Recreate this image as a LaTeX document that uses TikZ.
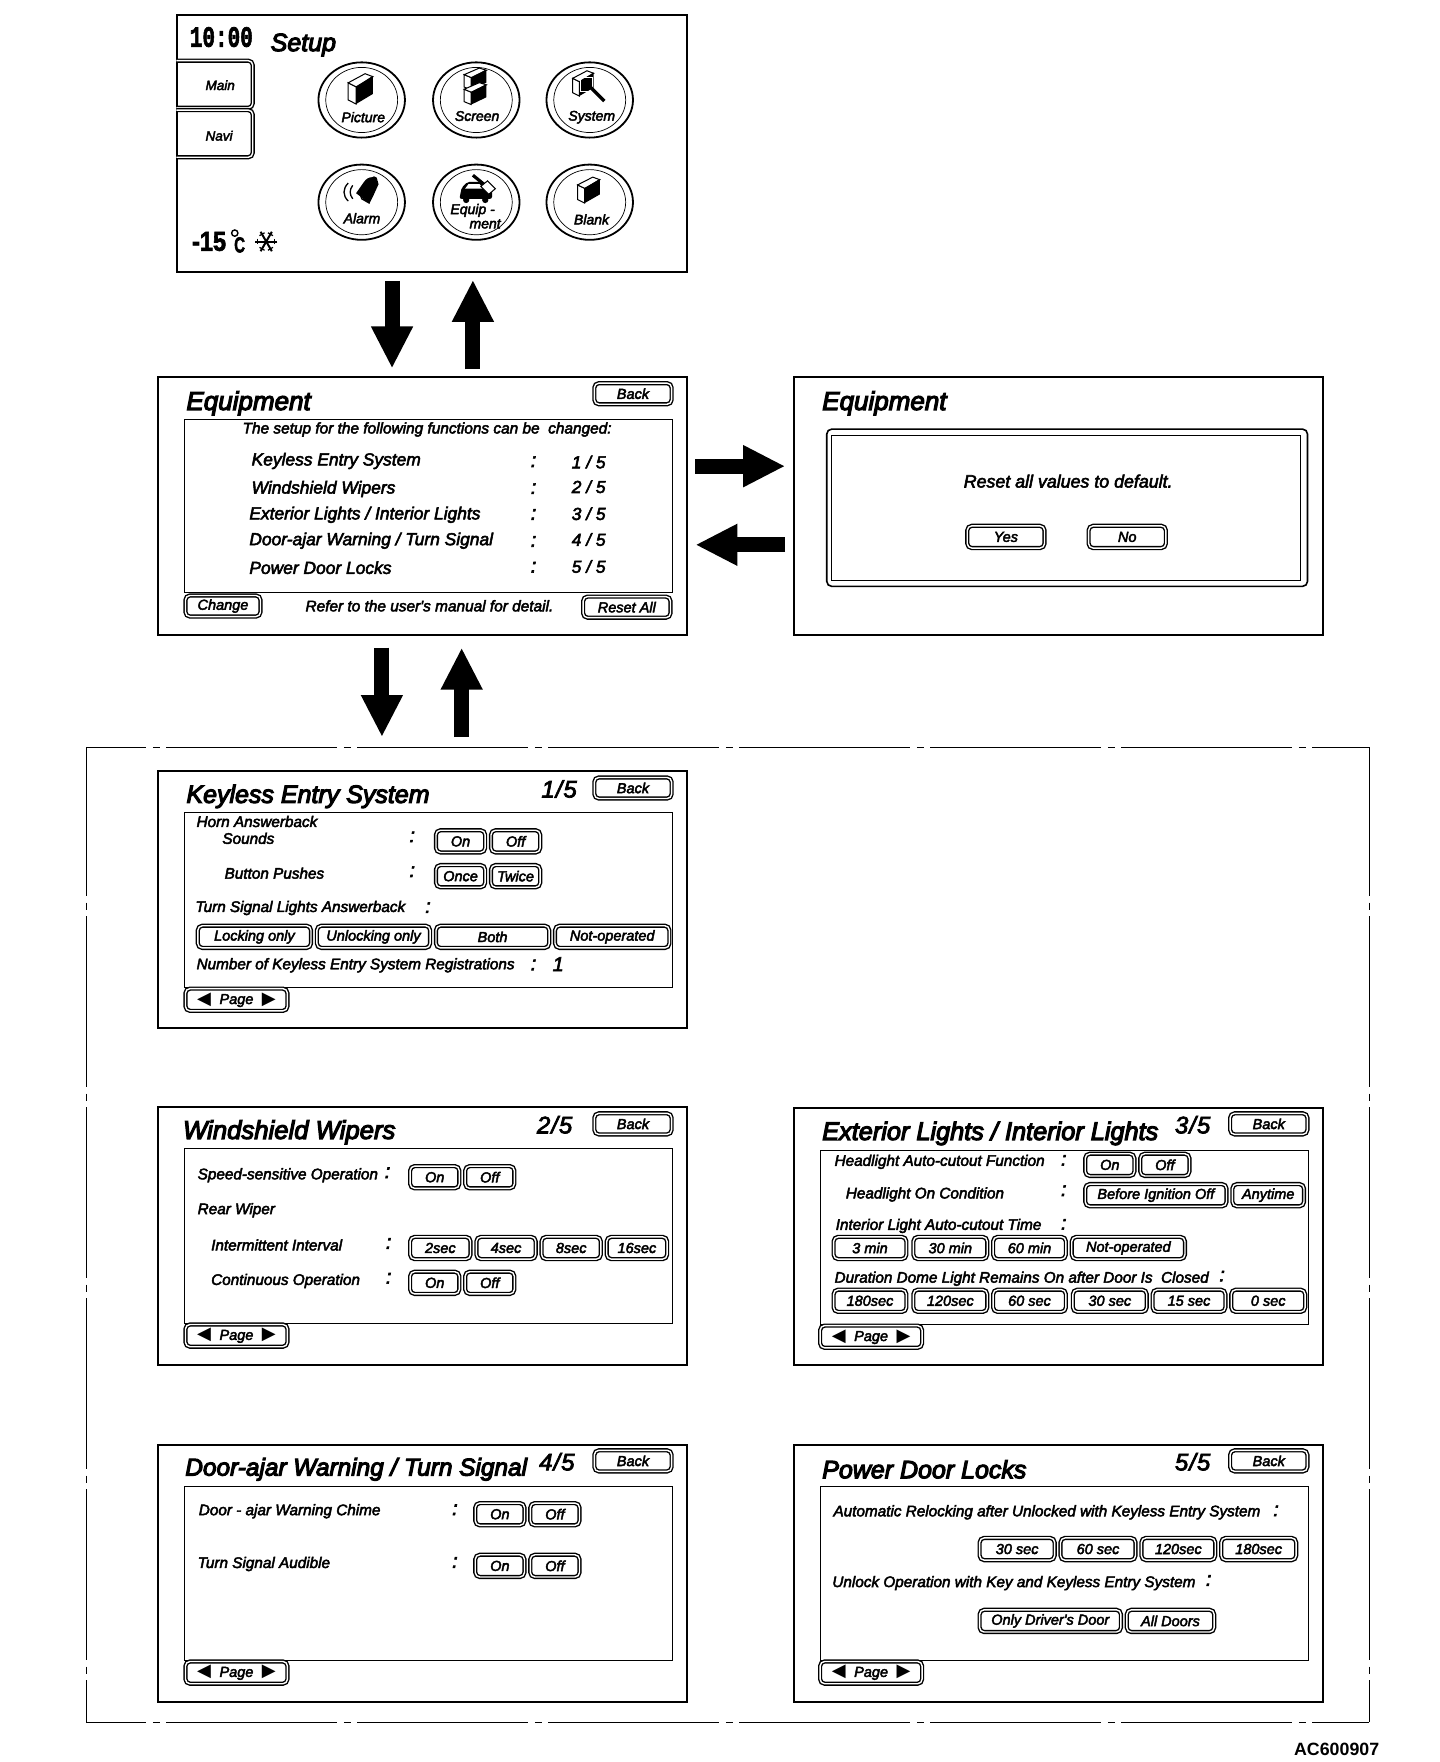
\documentclass[tikz,border=0pt]{standalone}
\usepackage{fontspec}
\setmainfont{Liberation Sans}
\setmonofont{Liberation Mono}
\newfontfamily\bodyf[FakeBold=3]{Liberation Sans}
\newfontfamily\titlef[FakeBold=4.5]{Liberation Sans}
\newfontfamily\clockf[FakeBold=2.5]{Liberation Mono}
\newfontfamily\tempf[FakeBold=2.5]{Liberation Sans}
\newfontfamily\symf{DejaVu Sans}
\usetikzlibrary{arrows.meta,calc}
\newcount\tc
\def\ux{1.1233}
\tikzset{
  panel/.style={draw,line width=2pt,inner sep=0pt,outer sep=0pt},
  innerbox/.style={draw,line width=.9pt,inner sep=0pt,outer sep=0pt},
  btn/.style={draw,line width=1.4pt,double=white,double distance=1.4pt,rounded corners=4.5pt,inner sep=0pt,outer sep=0pt},
  tabshape/.style={line width=1.4pt,double=white,double distance=1.4pt,rounded corners=4.5pt},
  txt/.style={anchor=west,inner sep=0pt,outer sep=0pt},
  bodytxt/.style={txt,yshift=-1.5pt},
  bigarrow/.style={line width=15pt,-{Triangle[width=39pt,length=42pt]}},
  framedash/.style={line width=1pt,dash pattern=on 171pt off 6.5pt on 7pt off 6.5pt},
}
\newcommand\sized[1]{\fontsize{#1}{#1}\selectfont}
\newcommand\tx[4][15.3]{\global\advance\tc by 1
  \node[bodytxt,font=\bodyf\itshape\sized{#1}] (t\the\tc) at (#2,#3) {#4};}
\newcommand\ttl[4][25]{\global\advance\tc by 1
  \node[txt,font=\titlef\itshape\sized{#1}] (t\the\tc) at (#2,#3) {#4};}
\newcommand\cl[2]{\global\advance\tc by 1
  \node[inner sep=0pt,font=\bodyf\itshape\sized{20}] (t\the\tc) at (#1,#2) {:};}
\newcommand\pnl[5]{\pgfmathsetmacro\cx{(#2+#4)/2}\pgfmathsetmacro\cy{(#3+#5)/2}
  \pgfmathsetmacro\ww{(#4-#2)*\ux}\pgfmathsetmacro\hh{(#5-#3)*\ux}
  \node[panel,minimum width=\ww pt,minimum height=\hh pt] (#1) at (\cx,\cy) {};}
\newcommand\ibx[5]{\pgfmathsetmacro\cx{(#2+#4)/2}\pgfmathsetmacro\cy{(#3+#5)/2}
  \pgfmathsetmacro\ww{(#4-#2)*\ux}\pgfmathsetmacro\hh{(#5-#3)*\ux}
  \node[innerbox,minimum width=\ww pt,minimum height=\hh pt] (#1) at (\cx,\cy) {};}
\newcommand\btnn[6][14.5]{\global\advance\tc by 1
  \pgfmathsetmacro\cx{(#2+#4)/2}\pgfmathsetmacro\cy{(#3+#5)/2}
  \pgfmathsetmacro\ww{(#4-#2)*\ux-2.5}\pgfmathsetmacro\hh{(#5-#3)*\ux-2.5}
  \node[btn,minimum width=\ww pt,minimum height=\hh pt,font=\bodyf\itshape\sized{#1}] (b\the\tc) at (\cx,\cy) {#6};}
\newcommand\pagebtn[2]{\btnn{#1}{#2}{\numexpr#1+93\relax}{\numexpr#2+22\relax}{{\symf\sized{18}\char"25C0}\hspace{8.5pt}Page\hspace{8.5pt}{\symf\sized{18}\char"25B6}}}
% small isometric box icon: origin at centre of the box
\newcommand\boxicon[4]{\begin{scope}[shift={(#1,#2)},xscale=#3,yscale=#4]
  \draw[line width=1pt,fill=white] (-12,-7)--(-5,-3)--(-5,14)--(-12,10)--cycle;
  \draw[line width=1pt,fill=white] (-12,-7)--(3,-16)--(10,-13)--(-5,-3)--cycle;
  \fill (-5,-3)--(10,-14)--(10,4)--(-5,14)--cycle;
\end{scope}}
\begin{document}
\begin{tikzpicture}[x=\ux pt,y=-\ux pt]
\useasboundingbox (0,0) rectangle (1281.9,1568.6);
\fill[white] (0,0) rectangle (1281.9,1568.6);

% ---------- panels
\pnl{setup}{158}{13}{612}{242}
\pnl{equip}{141}{336}{612}{565}
\pnl{reset}{707}{336}{1178}{565}
\pnl{keyless}{141}{686}{612}{915}
\pnl{wipers}{141}{985.5}{612}{1215}
\pnl{lights}{707}{986}{1178}{1215}
\pnl{door}{141}{1286}{612}{1515}
\pnl{locks}{707}{1286}{1178}{1515}

% ---------- dashed frame
\coordinate (fnw) at (77,665);\coordinate (fne) at (1219,665);
\coordinate (fsw) at (77,1533);\coordinate (fse) at (1219,1533);
\draw[framedash,dash phase=111pt] (fnw) -- (fne);
\draw[framedash,dash phase=111pt] (fsw) -- (fse);
\draw[framedash,dash phase=22pt] (fnw) -- (fsw);
\draw[framedash,dash phase=22pt] (fne) -- (fse);

% ---------- block arrows
\coordinate (ax1) at (349,0);\coordinate (ax2) at (421,0);
\coordinate (ax3) at (340,0);\coordinate (ax4) at (411,0);
\coordinate (ay1) at (0,415);\coordinate (ay2) at (0,485);
\draw[bigarrow,shorten <=9pt,shorten >=9pt] (setup.south -| ax1) -- (equip.north -| ax1);
\draw[bigarrow,shorten <=8pt,shorten >=8pt] (equip.north -| ax2) -- (setup.south -| ax2);
\draw[bigarrow,shorten <=8pt,shorten >=9pt] (equip.east |- ay1) -- (reset.west |- ay1);
\draw[bigarrow,shorten <=9pt,shorten >=8pt] (reset.west |- ay2) -- (equip.east |- ay2);
\draw[bigarrow,shorten <=13pt,shorten >=10pt] (equip.south -| ax3) -- (fnw -| ax3);
\draw[bigarrow,shorten <=10pt,shorten >=13pt] (fnw -| ax4) -- (equip.south -| ax4);

% ---------- Setup screen
\node[txt] (clock) at (169,33) {\scalebox{1}[1.4]{\clockf\bfseries\sized{21}10:00}};
\ttl[25]{241}{40}{Setup}
\draw[tabshape] (157,54)--(225,54)--(225,96)--(157,96);
\draw[tabshape] (157,98)--(225,98)--(225,140)--(157,140);
\tx[13.5]{183}{74.5}{Main}
\tx[13.5]{183}{119.5}{Navi}
\foreach \ex/\ey in {322/89,424/89,525/89,322/180,424/180,525/180}{
  \draw[line width=1.8pt] (\ex,\ey) ellipse [x radius=38.5,y radius=33.5];
  \draw[line width=.7pt] (\ex,\ey) ellipse [x radius=32,y radius=29];
}
\boxicon{322}{80}{1}{.9}
\boxicon{424}{71}{.9}{.65}
\boxicon{424}{84}{.9}{.65}
\tx[14]{304}{103}{Picture}
\tx[14]{405}{102}{Screen}
\tx[14]{506}{103}{System}
\tx[14]{306}{193}{Alarm}
\tx[14]{401}{186}{Equip -}
\tx[14]{418}{198}{ment}
\tx[14]{511}{194}{Blank}
% system icon
\boxicon{520}{75}{.85}{.75}
\draw[white,line width=.8pt] (517,69) rectangle (527,81);
\draw[line width=3.5pt] (526,78)--(538,90);
% alarm icon
\fill (317,172) -- (324,162) .. controls (328,156) and (336,156) .. (337,164) -- (332,175) -- (329,181) -- cycle;
\draw[line width=1.2pt,fill=white] (321,174) -- (329,181) -- (322,177) -- cycle;
\fill (333,160) circle (3);
\draw[line width=1.3pt] (314,165) .. controls (311,169) and (311,173) .. (314,177);
\draw[line width=1.3pt] (310,163) .. controls (305,168) and (305,174) .. (310,179);
% equipment icon
\fill[rounded corners=2pt] (411,167) -- (416,162) -- (428,162) -- (434,167) -- (438,169) -- (438,177) -- (409,177) -- cycle;
\fill[white] (417,164) -- (427,164) -- (430,168) -- (414,168) -- cycle;
\fill (415,178) circle (2.8) (432,178) circle (2.8);
\draw[line width=3.2pt] (421,156)--(432,165);
\draw[line width=1pt,fill=white] (428,166) -- (434,161) -- (441,168) -- (435,173) -- cycle;
\boxicon{525}{170}{.9}{.77}
% temperature
\node[txt] (temp) at (171,215) {\scalebox{1.12}[1.3]{\tempf\bfseries\sized{21}-15}};
\draw[line width=1.4pt] (209,207.5) circle (2.8);
\node[txt] (tempc) at (208.5,218) {\scalebox{1}[1.45]{\tempf\bfseries\sized{15}C}};
\foreach \aa in {0,60,120}{
  \draw[line width=2pt] ($(237,215)+(\aa:10)$) -- ($(237,215)+(\aa+180:10)$);
  \draw[line width=1.2pt] ($(237,215)+(\aa:6)+(\aa+60:3)$) -- ($(237,215)+(\aa:6)+(\aa-60:3)$);
  \draw[line width=1.2pt] ($(237,215)+(\aa+180:6)+(\aa+240:3)$) -- ($(237,215)+(\aa+180:6)+(\aa+120:3)$);
}

% ---------- Equipment list
\ttl[26]{166}{359}{Equipment}
\btnn{528}{340}{599}{361}{Back}
\ibx{equipbox}{164}{373}{599}{527}
\tx[15.4]{216}{381}{The setup for the following functions can be\ \ changed:}
\tx[17.4]{224}{409}{Keyless Entry System}
\tx[17.4]{224}{434}{Windshield Wipers}
\tx[17.4]{222}{457}{Exterior Lights / Interior Lights}
\tx[17.4]{222}{480}{Door-ajar Warning / Turn Signal}
\tx[17.4]{222}{504}{Power Door Locks}
\cl{475}{411}\cl{475}{435}\cl{475}{458}\cl{475}{482}\cl{475}{505}
\tx[17.4]{509}{410}{1 / 5}
\tx[17.4]{509}{432}{2 / 5}
\tx[17.4]{509}{456}{3 / 5}
\tx[17.4]{509}{479}{4 / 5}
\tx[17.4]{509}{503}{5 / 5}
\btnn{164}{529}{233}{550}{Change}
\tx[15.4]{272}{538}{Refer to the user's manual for detail.}
\btnn{518}{530}{598}{551}{Reset All}

% ---------- Reset
\ttl[26]{732}{359}{Equipment}
\draw[line width=1.6pt,rounded corners=5pt] (736,382) rectangle (1164,522);
\draw[line width=.8pt] (740,388) rectangle (1158,517);
\tx[17.8]{858}{427}{Reset all values to default.}
\btnn{860}{467}{931}{489}{Yes}
\btnn{968}{467}{1039}{489}{No}

% ---------- 1/5
\ttl[25]{166}{709}{Keyless Entry System}
\tx[24]{482}{701}{1\kern1pt/\kern1pt5}
\btnn{528}{691}{599}{712}{Back}
\ibx{keybox}{164}{723}{599}{879}
\tx{175}{730}{Horn Answerback}
\tx{198}{745}{Sounds}
\cl{367}{745}
\btnn{387}{738}{433}{760}{On}
\btnn{436}{738}{482}{760}{Off}
\tx{200}{776}{Button Pushes}
\cl{367}{776}
\btnn{387}{769}{433}{791}{Once}
\btnn{436}{769}{482}{791}{Twice}
\tx{174}{807}{Turn Signal Lights Answerback}
\cl{381}{808}
\btnn{175}{823}{278}{845}{Locking only}
\btnn{281}{823}{384}{845}{Unlocking only}
\btnn{387}{823}{490}{845}{Both}
\btnn{493}{823}{597}{845}{Not-operated}
\tx{175}{858}{Number of Keyless Entry System Registrations}
\cl{475}{859}
\tx[20]{492}{857}{1}
\pagebtn{164}{879}

% ---------- 2/5
\ttl[25.7]{163}{1008}{Windshield Wipers}
\tx[24]{478}{1000}{2\kern1pt/\kern1pt5}
\btnn{528}{990}{599}{1011}{Back}
\ibx{wipbox}{164}{1022}{599}{1178}
\tx{176}{1045}{Speed-sensitive Operation}
\cl{345}{1044}
\btnn{364}{1037}{410}{1059}{On}
\btnn{413}{1037}{459}{1059}{Off}
\tx{176}{1076}{Rear Wiper}
\tx{188}{1107}{Intermittent Interval}
\cl{346}{1107}
\btnn{364}{1100}{420}{1122}{2sec}
\btnn{423}{1100}{478}{1122}{4sec}
\btnn{481}{1100}{536}{1122}{8sec}
\btnn{539}{1100}{595}{1122}{16sec}
\tx{188}{1139}{Continuous Operation}
\cl{346}{1138}
\btnn{364}{1131}{410}{1153}{On}
\btnn{413}{1131}{459}{1153}{Off}
\pagebtn{164}{1178}

% ---------- 3/5
\ttl[25.3]{732}{1009}{Exterior Lights / Interior Lights}
\tx[24]{1046}{1000}{3\kern1pt/\kern1pt5}
\btnn{1094}{990}{1165}{1011}{Back}
\ibx{litbox}{730}{1024}{1165}{1179}
\tx{743}{1033}{Headlight Auto-cutout Function}
\cl{947}{1033}
\btnn{965}{1026}{1011}{1048}{On}
\btnn{1014}{1026}{1060}{1048}{Off}
\tx{753}{1062}{Headlight On Condition}
\cl{947}{1060}
\btnn{965}{1053}{1093}{1075}{Before Ignition Off}
\btnn{1096}{1053}{1162}{1075}{Anytime}
\tx{744}{1090}{Interior Light Auto-cutout Time}
\cl{947}{1090}
\btnn{741}{1100}{808}{1122}{3 min}
\btnn{812}{1100}{880}{1122}{30 min}
\btnn{883}{1100}{950}{1122}{60 min}
\btnn{953}{1100}{1056}{1122}{Not-operated}
\tx{743}{1137}{Duration Dome Light Remains On after Door Is\ \ Closed}
\cl{1088}{1136}
\btnn{741}{1147}{808}{1169}{180sec}
\btnn{812}{1147}{880}{1169}{120sec}
\btnn{883}{1147}{950}{1169}{60 sec}
\btnn{954}{1147}{1022}{1169}{30 sec}
\btnn{1025}{1147}{1092}{1169}{15 sec}
\btnn{1095}{1147}{1163}{1169}{0 sec}
\pagebtn{729}{1179}

% ---------- 4/5
\ttl[24.4]{165}{1308}{Door-ajar Warning / Turn Signal}
\tx[24]{480}{1300}{4\kern1pt/\kern1pt5}
\btnn{528}{1290}{599}{1311}{Back}
\ibx{doorbox}{164}{1323}{599}{1478}
\tx{177}{1344}{Door - ajar Warning Chime}
\cl{405}{1344}
\btnn{422}{1337}{468}{1359}{On}
\btnn{471}{1337}{517}{1359}{Off}
\tx{176}{1391}{Turn Signal Audible}
\cl{405}{1391}
\btnn{422}{1383}{468}{1405}{On}
\btnn{471}{1383}{517}{1405}{Off}
\pagebtn{164}{1478}

% ---------- 5/5
\ttl[25]{732}{1308}{Power Door Locks}
\tx[24]{1046}{1300}{5\kern1pt/\kern1pt5}
\btnn{1094}{1290}{1165}{1311}{Back}
\ibx{lockbox}{730}{1323}{1165}{1478}
\tx{742}{1345}{Automatic Relocking after Unlocked with Keyless Entry System}
\cl{1136}{1345}
\btnn{871}{1368}{940}{1390}{30 sec}
\btnn{943}{1368}{1012}{1390}{60 sec}
\btnn{1015}{1368}{1083}{1390}{120sec}
\btnn{1086}{1368}{1155}{1390}{180sec}
\tx{741}{1408}{Unlock Operation with Key and Keyless Entry System}
\cl{1076}{1407}
\btnn{871}{1432}{999}{1454}{Only Driver's Door}
\btnn{1002}{1432}{1082}{1454}{All Doors}
\pagebtn{729}{1478}

\node[anchor=east,inner sep=0pt,font=\bfseries\sized{17.8}] (code) at (1228,1557) {AC600907};
\end{tikzpicture}
\end{document}
